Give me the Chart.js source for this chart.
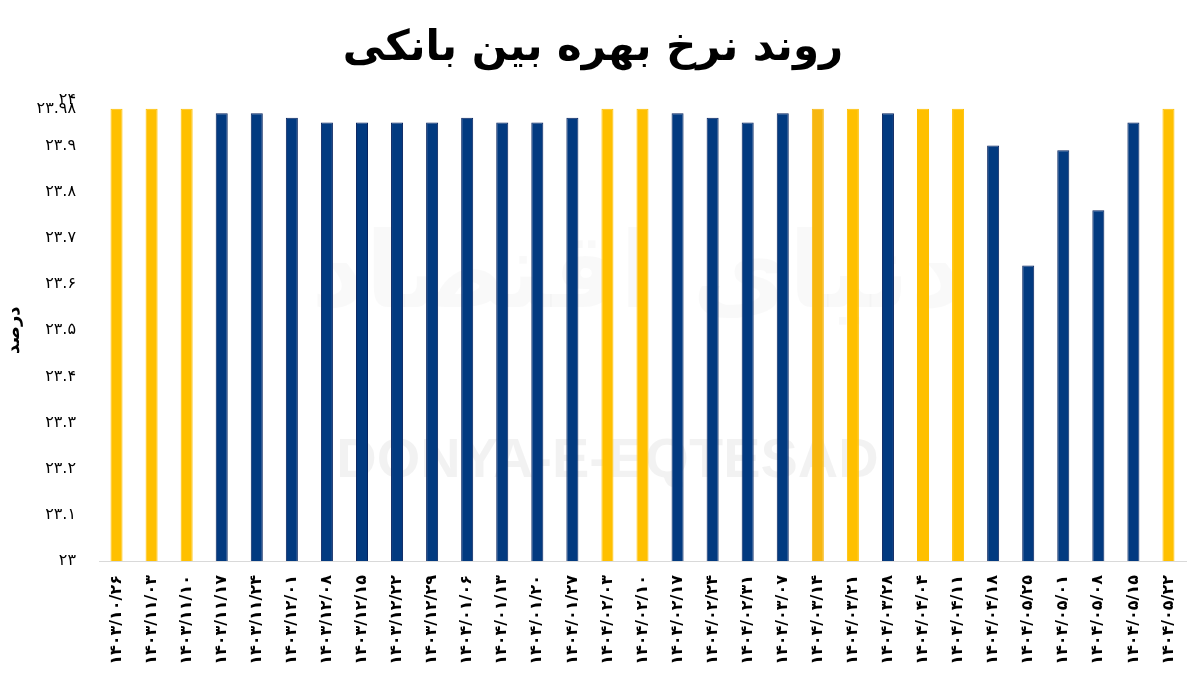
<!DOCTYPE html>
<html lang="fa">
<head>
<meta charset="utf-8">
<title>روند نرخ بهره بین بانکی</title>
<script src="https://cdn.jsdelivr.net/npm/chart.js@4.4.1/dist/chart.umd.min.js"></script>
<style>
  html, body { margin: 0; padding: 0; background: #ffffff; }
  #wrap { width: 1200px; height: 675px; position: relative; }
  canvas { display: block; }
</style>
</head>
<body>
<div id="wrap"><canvas id="c" width="1200" height="675"></canvas></div>
<script>
// ---- data ----
const categories = [
  '۱۴۰۳/۱۰/۲۶','۱۴۰۳/۱۱/۰۳','۱۴۰۳/۱۱/۱۰','۱۴۰۳/۱۱/۱۷','۱۴۰۳/۱۱/۲۴',
  '۱۴۰۳/۱۲/۰۱','۱۴۰۳/۱۲/۰۸','۱۴۰۳/۱۲/۱۵','۱۴۰۳/۱۲/۲۲','۱۴۰۳/۱۲/۲۹',
  '۱۴۰۴/۰۱/۰۶','۱۴۰۴/۰۱/۱۳','۱۴۰۴/۰۱/۲۰','۱۴۰۴/۰۱/۲۷','۱۴۰۴/۰۲/۰۳',
  '۱۴۰۴/۰۲/۱۰','۱۴۰۴/۰۲/۱۷','۱۴۰۴/۰۲/۲۴','۱۴۰۴/۰۲/۳۱','۱۴۰۴/۰۳/۰۷',
  '۱۴۰۴/۰۳/۱۴','۱۴۰۴/۰۳/۲۱','۱۴۰۴/۰۳/۲۸','۱۴۰۴/۰۴/۰۴','۱۴۰۴/۰۴/۱۱',
  '۱۴۰۴/۰۴/۱۸','۱۴۰۴/۰۵/۲۵','۱۴۰۴/۰۵/۰۱','۱۴۰۴/۰۵/۰۸','۱۴۰۴/۰۵/۱۵',
  '۱۴۰۴/۰۵/۲۲'
];
const rateValues = [
  23.98, 23.98, 23.98, 23.97, 23.97,
  23.96, 23.95, 23.95, 23.95, 23.95,
  23.96, 23.95, 23.95, 23.96, 23.98,
  23.98, 23.97, 23.96, 23.95, 23.97,
  23.98, 23.98, 23.97, 23.98, 23.98,
  23.90, 23.64, 23.89, 23.76, 23.95,
  23.98
];
// 1 = highlighted (yellow) week, 0 = regular (blue)
const highlightFlags = [
  1,1,1,0,0, 0,0,0,0,0, 0,0,0,0,1,
  1,0,0,0,0, 1,1,0,1,1, 0,0,0,0,0, 1
];
const yTickValues = [23, 23.1, 23.2, 23.3, 23.4, 23.5, 23.6, 23.7, 23.8, 23.9, 23.98, 24];
const yTickLabels = ['۲۳','۲۳.۱','۲۳.۲','۲۳.۳','۲۳.۴','۲۳.۵','۲۳.۶','۲۳.۷','۲۳.۸','۲۳.۹','۲۳.۹۸','۲۴'];
const chartTitle = 'روند نرخ بهره بین بانکی';
const yAxisTitle = 'درصد';
const watermarkLatin = 'DONYA-E-EQTESAD';
const watermarkPersian = 'دنیای اقتصاد';

// ---- styles ----
const YELLOW = '#FFC000';
const YELLOW_ALT = '#F7B70F';
const BLUE = '#023A80';
const BLUE_EDGE = '#07235F';
const FONT = "'DejaVu Sans', 'Noto Sans', sans-serif";

const barColors = highlightFlags.map((f, i) => f ? (i === 20 ? YELLOW_ALT : YELLOW) : BLUE);
const barBorders = highlightFlags.map((f, i) => f ? (i === 20 ? YELLOW_ALT : YELLOW) : BLUE_EDGE);

const watermarkPlugin = {
  id: 'watermark',
  beforeDatasetsDraw(chart) {
    const ctx = chart.ctx;
    const a = chart.chartArea;
    ctx.save();
    ctx.textAlign = 'center';
    ctx.textBaseline = 'middle';
    ctx.fillStyle = 'rgba(0,0,0,0.022)';
    ctx.font = "bold 105px " + FONT;
    ctx.fillText(watermarkPersian, (a.left + a.right) / 2 - 5, a.top + 180);
    ctx.fillStyle = 'rgba(0,0,0,0.05)';
    ctx.font = "bold 56px 'Liberation Sans', Arial, sans-serif";
    ctx.fillText(watermarkLatin, (a.left + a.right) / 2 - 35, a.top + 362);
    ctx.restore();
  }
};

new Chart(document.getElementById('c'), {
  type: 'bar',
  data: {
    labels: categories,
    datasets: [{
      label: chartTitle,
      data: rateValues,
      backgroundColor: barColors,
      borderColor: barBorders,
      borderWidth: 1,
      barPercentage: 0.7,
      categoryPercentage: 0.49
    }]
  },
  options: {
    responsive: false,
    animation: false,
    devicePixelRatio: 1,
    layout: { padding: { left: 0, right: 14, top: 0, bottom: 0 } },
    plugins: {
      legend: { display: false },
      tooltip: { enabled: false },
      title: {
        display: true,
        text: chartTitle,
        color: '#000000',
        font: { family: FONT, size: 42, weight: 'bold' },
        padding: { top: 24, bottom: 25 }
      }
    },
    scales: {
      x: {
        grid: { display: false },
        border: { display: true, color: '#d9d9d9', width: 1 },
        ticks: {
          color: '#000000',
          font: { family: FONT, size: 16, weight: 'bold' },
          minRotation: 90,
          maxRotation: 90,
          autoSkip: false,
          padding: 6
        },
        afterFit(scale) { scale.height = 114; }
      },
      y: {
        min: 23,
        max: 24,
        grid: { display: false },
        border: { display: false },
        afterBuildTicks(scale) {
          scale.ticks = yTickValues.map(v => ({ value: v }));
        },
        ticks: {
          color: '#000000',
          autoSkip: false,
          font: { family: FONT, size: 16 },
          padding: 15,
          callback(value) {
            const i = yTickValues.indexOf(value);
            return i >= 0 ? yTickLabels[i] : '';
          }
        },
        title: {
          display: true,
          text: yAxisTitle,
          color: '#000000',
          font: { family: FONT, size: 18, weight: 'bold' },
          padding: { top: 4, bottom: 0 }
        },
        afterFit(scale) { scale.width = 99; }
      }
    }
  },
  plugins: [watermarkPlugin]
});
</script>
</body>
</html>
